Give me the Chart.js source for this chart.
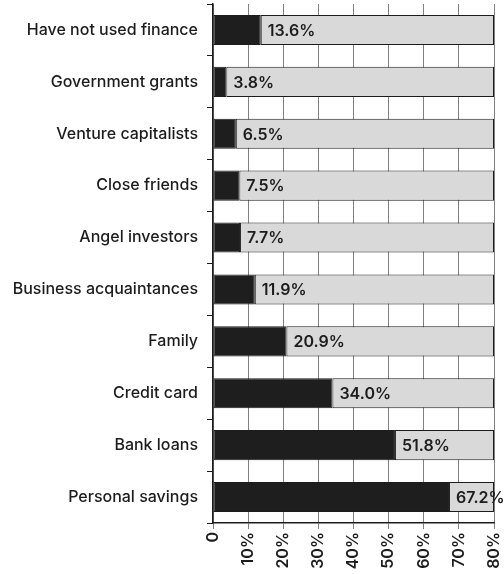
<!DOCTYPE html>
<html>
<head>
<meta charset="utf-8">
<script src="https://cdn.jsdelivr.net/npm/chart.js@4"></script>
<style>
  html, body { margin: 0; padding: 0; background: #fff; }
  #wrap { width: 504px; height: 574px; }
</style>
</head>
<body>
<div id="wrap"><canvas id="chart"></canvas></div>
<script>
// Sources of finance, share of respondents (%)
const categories = [
  'Have not used finance',
  'Government grants',
  'Venture capitalists',
  'Close friends',
  'Angel investors',
  'Business acquaintances',
  'Family',
  'Credit card',
  'Bank loans',
  'Personal savings'
];
const shares = [13.6, 3.8, 6.5, 7.5, 7.7, 11.9, 20.9, 34.0, 51.8, 67.2];
const axisMax = 80;
const tickValues = [0, 10, 20, 30, 40, 50, 60, 70, 80];

// grey track fills the rest of each bar up to the axis end
const remainder = shares.map(v => axisMax - v);

const FONT = 'Inter, "Open Sans", sans-serif';
const INK = '#1c1c1c';

// draw the value next to the end of the dark bar
const valueLabels = {
  id: 'valueLabels',
  afterDatasetsDraw(chart) {
    const ctx = chart.ctx;
    const meta = chart.getDatasetMeta(0);
    ctx.save();
    ctx.font = '600 16px ' + FONT;
    ctx.fillStyle = INK;
    ctx.textAlign = 'left';
    ctx.textBaseline = 'middle';
    meta.data.forEach((bar, i) => {
      ctx.fillText(shares[i].toFixed(1) + '%', bar.x + 7, bar.y + 1);
    });
    ctx.restore();
  }
};

new Chart(document.getElementById('chart'), {
  type: 'bar',
  data: {
    labels: categories,
    datasets: [
      {
        data: shares,
        backgroundColor: '#1e1e1e',
        borderColor: INK,
        borderWidth: 1,
        borderSkipped: false,
        barPercentage: 0.58,
        categoryPercentage: 1
      },
      {
        data: remainder,
        backgroundColor: '#d9d9d9',
        borderColor: INK,
        borderWidth: 1,
        borderSkipped: false,
        barPercentage: 0.58,
        categoryPercentage: 1
      }
    ]
  },
  options: {
    indexAxis: 'y',
    responsive: true,
    maintainAspectRatio: false,
    animation: false,
    layout: { padding: { top: 4, right: 10, left: 0, bottom: 0 } },
    plugins: {
      legend: { display: false },
      tooltip: { enabled: false }
    },
    scales: {
      x: {
        stacked: true,
        min: 0,
        max: axisMax,
        afterBuildTicks: (scale) => {
          scale.ticks = tickValues.map(v => ({ value: v }));
        },
        afterFit: (scale) => {
          scale.height = 51;
          scale.paddingLeft = 0;
          scale.paddingRight = 0;
        },
        grid: {
          display: true,
          drawOnChartArea: true,
          color: '#808080',
          lineWidth: 1,
          tickLength: 6,
          drawTicks: true
        },
        border: { color: INK, width: 1.5 },
        ticks: {
          minRotation: 90,
          maxRotation: 90,
          padding: 3,
          color: INK,
          font: { family: FONT, size: 16, weight: '600' },
          callback: (v) => v === 0 ? '0' : v + '%'
        }
      },
      y: {
        stacked: true,
        afterFit: (scale) => {
          scale.width = 213;
          scale.paddingTop = 0;
          scale.paddingBottom = 0;
        },
        grid: {
          offset: true,
          drawOnChartArea: false,
          color: INK,
          tickLength: 6
        },
        border: { color: INK, width: 1.5 },
        ticks: {
          padding: 9,
          color: INK,
          font: { family: FONT, size: 16, weight: '500' }
        }
      }
    }
  },
  plugins: [valueLabels]
});
</script>
</body>
</html>
